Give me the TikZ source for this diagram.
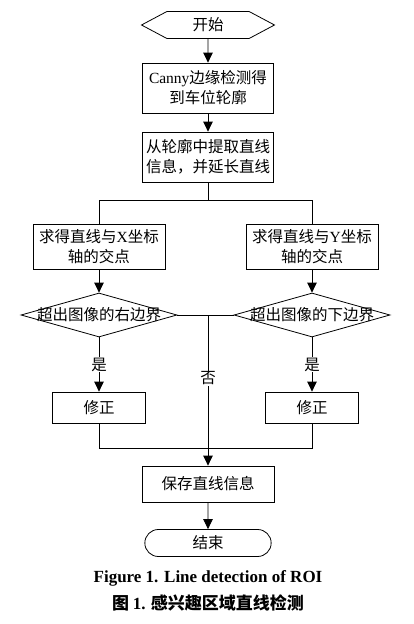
\documentclass[tikz,border=0pt]{standalone}
\usepackage{fontspec}
\setmainfont{Liberation Serif}
\newfontfamily\cjk{Noto Sans CJK SC}
\usetikzlibrary{shapes,arrows.meta,positioning}
\tikzstyle{block} = [draw, rectangle, minimum width=131pt, minimum height=50pt, inner sep=1pt, align=center]
\tikzstyle{smallblock} = [draw, rectangle, minimum width=93pt, minimum height=31pt]
\tikzstyle{terminal} = [draw, signal, signal to=west and east, signal pointer angle=56, minimum width=133pt, minimum height=27pt]
\tikzstyle{endblock} = [draw, rounded rectangle, minimum width=133pt, minimum height=27pt]
\tikzstyle{decision} = [draw, diamond, minimum width=156pt, minimum height=44pt, inner sep=0pt]
\tikzstyle{branch} = [coordinate]
\tikzstyle{answer} = [fill=white, inner sep=1pt]

\begin{document}
\begin{tikzpicture}[x=1pt, y=1pt, >={Triangle[length=10pt,width=9.5pt]}, line width=0.8pt, font=\cjk\fontsize{15.5pt}{20pt}\selectfont]
      \useasboundingbox (0,0) rectangle (414,-624);
      \node[terminal] (start) at (208,-25) {开始};
      \node[block, below of=start, node distance=63pt] (canny) {\textrm{Canny}边缘检测得\\到车位轮廓};
      \node[block, below of=canny, node distance=69pt] (extract) {从轮廓中提取直线\\信息，并延长直线};
      \node[branch, below of=extract, node distance=43pt] (split) {};
      \node[block, below of=extract, node distance=90pt, xshift=-109pt, minimum width=132pt, minimum height=45pt] (xbox) {求得直线与\textrm{X}坐标\\轴的交点};
      \node[block, right of=xbox, node distance=213pt, minimum width=132pt, minimum height=45pt] (ybox) {求得直线与\textrm{Y}坐标\\轴的交点};
      \node[decision, below of=xbox, node distance=68pt] (xdia) {\makebox[0pt]{超出图像的右边界}};
      \node[decision, below of=ybox, node distance=68pt] (ydia) {\makebox[0pt]{超出图像的下边界}};
      \node[smallblock, below of=xdia, node distance=92.5pt] (xfix) {修正};
      \node[smallblock, below of=ydia, node distance=92.5pt] (yfix) {修正};
      \node[block, below of=extract, node distance=327pt, minimum width=132pt, minimum height=36pt] (save) {保存直线信息};
      \node[endblock, below of=save, node distance=59pt] (end) {结束};
      \node[branch, above of=save, node distance=36pt] (merge) {};
      \coordinate (mid) at (save |- xdia);
      \node[below of=end, node distance=35pt, font=\bfseries\fontsize{17pt}{20pt}\selectfont] (cap1) {Figure 1. Line detection of ROI};
      \node[below of=cap1, node distance=25pt, font=\cjk\bfseries\fontsize{17pt}{20pt}\selectfont] (cap2) {图 \textrm{1.} 感兴趣区域直线检测};
      \draw[->] (start) -- (canny);
      \draw[->] (canny) -- (extract);
      \draw (extract) -- (split);
      \draw (split) -| (xbox);
      \draw (split) -| (ybox);
      \draw[->] (xbox) -- (xdia);
      \draw[->] (ybox) -- (ydia);
      \draw (xdia.east) -- (ydia.west);
      \draw[->] (xdia) -- node[answer]{是} (xfix);
      \draw[->] (ydia) -- node[answer]{是} (yfix);
      \draw[->] (mid) -- node[answer, pos=0.42]{否} (save);
      \draw (xfix) |- (merge);
      \draw (yfix) |- (merge);
      \draw[->] (save) -- (end);
\end{tikzpicture}
\end{document}
